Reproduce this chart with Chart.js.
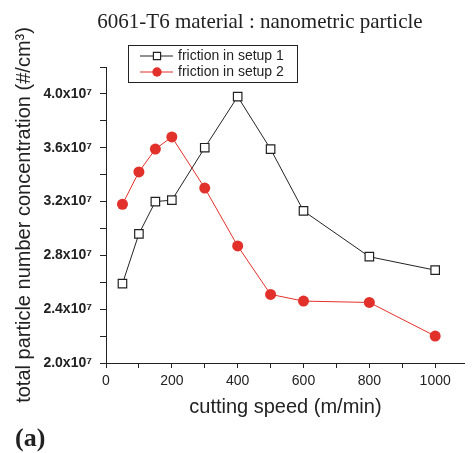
<!DOCTYPE html>
<html>
<head>
<meta charset="utf-8">
<script src="https://cdn.jsdelivr.net/npm/chart.js@4.4.0/dist/chart.umd.min.js"></script>
<style>
  html, body { margin: 0; padding: 0; background: #fff; }
  #wrap { width: 472px; height: 453px; }
</style>
</head>
<body>
<div id="wrap"><canvas id="chart" width="472" height="453"></canvas></div>
<script>
// cutting speed (m/min)
const speeds = [50, 100, 150, 200, 300, 400, 500, 600, 800, 1000];
// particle number concentration, in units of 10^7 #/cm3
const setup1 = [2.59, 2.96, 3.20, 3.21, 3.60, 3.98, 3.59, 3.13, 2.79, 2.69];
const setup2 = [3.18, 3.42, 3.59, 3.68, 3.30, 2.87, 2.51, 2.46, 2.45, 2.20];
const seriesNames = ["friction in setup 1", "friction in setup 2"];
// tick marks (labels only on every other one)
const xTicks = [0, 100, 200, 300, 400, 500, 600, 700, 800, 900, 1000];
const xLabels = [0, 200, 400, 600, 800, 1000];
const yLabels = [2.0, 2.4, 2.8, 3.2, 3.6, 4.0];

const RED = "#e2312a";
const BLACK = "#222";

function toPoints(xs, ys) {
  return xs.map((x, i) => ({ x: x, y: ys[i] }));
}

// title, "(a)" and the boxed legend
const extras = {
  id: "extras",
  afterDraw(chart) {
    const ctx = chart.ctx;
    ctx.save();
    ctx.fillStyle = "#222";
    ctx.textBaseline = "middle";
    ctx.textAlign = "center";
    ctx.font = "21px 'Liberation Serif'";
    ctx.fillText("6061-T6 material : nanometric particle", 260, 22);

    ctx.textAlign = "left";
    ctx.textBaseline = "alphabetic";
    ctx.font = "bold 26px 'Liberation Serif'";
    ctx.fillText("(a)", 15, 446);

    // legend box
    ctx.strokeStyle = "#222";
    ctx.lineWidth = 1;
    ctx.strokeRect(128.5, 45.5, 169, 37);
    ctx.font = "14px 'Liberation Sans'";
    ctx.textBaseline = "middle";
    chart.data.datasets.forEach((ds, i) => {
      const y = 56 + i * 16;
      const r = ds.pointRadius * 0.85;
      ctx.strokeStyle = ds.borderColor;
      ctx.lineWidth = ds.borderWidth;
      ctx.beginPath();
      ctx.moveTo(140, y);
      ctx.lineTo(173, y);
      ctx.stroke();
      ctx.fillStyle = ds.pointBackgroundColor;
      ctx.strokeStyle = ds.pointBorderColor;
      ctx.lineWidth = ds.pointBorderWidth;
      ctx.beginPath();
      if (ds.pointStyle === "rect") {
        const s = r * Math.SQRT1_2;
        ctx.rect(157 - s, y - s, 2 * s, 2 * s);
      } else {
        ctx.arc(157, y, r, 0, Math.PI * 2);
      }
      ctx.fill();
      if (ds.pointBorderWidth > 0) ctx.stroke();
      ctx.fillStyle = "#222";
      ctx.fillText(seriesNames[i], 178, y + 0.5);
    });
    ctx.restore();
  }
};

new Chart(document.getElementById("chart"), {
  type: "line",
  data: {
    datasets: [
      {
        label: seriesNames[0],
        data: toPoints(speeds, setup1),
        borderColor: BLACK,
        borderWidth: 1,
        pointStyle: "rect",
        pointRadius: 6,
        pointBackgroundColor: "#fff",
        pointBorderColor: BLACK,
        pointBorderWidth: 1.2
      },
      {
        label: seriesNames[1],
        data: toPoints(speeds, setup2),
        borderColor: RED,
        borderWidth: 1,
        pointStyle: "circle",
        pointRadius: 5.5,
        pointBackgroundColor: RED,
        pointBorderColor: RED,
        pointBorderWidth: 0
      }
    ]
  },
  options: {
    responsive: false,
    animation: false,
    layout: { padding: { top: 67, right: 1, left: 0, bottom: 0 } },
    plugins: {
      legend: { display: false },
      tooltip: { enabled: false }
    },
    scales: {
      x: {
        type: "linear",
        min: 0,
        max: 1090,
        border: { display: true, color: "#222", width: 1 },
        grid: { drawOnChartArea: false, drawTicks: true, tickLength: 5, color: "#222" },
        afterBuildTicks: (scale) => { scale.ticks = xTicks.map(v => ({ value: v })); },
        ticks: {
          autoSkip: false,
          maxRotation: 0,
          padding: 5,
          color: "#222",
          font: { family: "'Liberation Sans'", size: 14 },
          callback: (v) => (xLabels.includes(v) ? String(v) : "")
        },
        title: {
          display: true,
          text: "cutting speed (m/min)",
          color: "#222",
          font: { family: "'Liberation Sans'", size: 20 },
          padding: { top: 0, bottom: 34 }
        },
        afterFit: (scale) => { scale.height = 453 - 363; }
      },
      y: {
        min: 2.0,
        max: 4.2,
        border: { display: true, color: "#222", width: 1 },
        grid: { drawOnChartArea: false, drawTicks: true, tickLength: 6, color: "#222" },
        ticks: {
          stepSize: 0.2,
          autoSkip: false,
          padding: 8,
          color: "#222",
          font: { family: "'Liberation Sans'", size: 14, weight: "bold" },
          callback: (v) => (yLabels.some(l => Math.abs(l - v) < 1e-6) ? v.toFixed(1) + "x10\u2077" : "")
        },
        title: {
          display: true,
          text: "total particle number concentration (#/cm\u00b3)",
          color: "#222",
          font: { family: "'Liberation Sans'", size: 20 },
          padding: { top: 12, bottom: 0 }
        },
        afterFit: (scale) => { scale.width = 106; }
      }
    }
  },
  plugins: [extras]
});
</script>
</body>
</html>
